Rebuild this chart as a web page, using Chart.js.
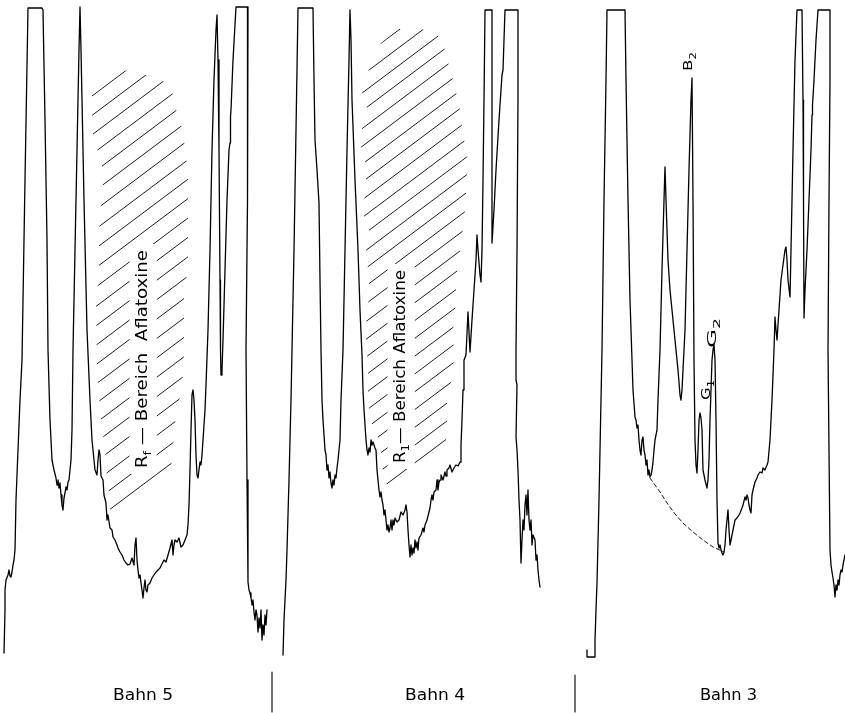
<!DOCTYPE html>
<html>
<head>
<meta charset="utf-8">
<script src="https://cdn.jsdelivr.net/npm/chart.js@4.4.1/dist/chart.umd.min.js"></script>
<style>
body { margin: 0; background: #fff; }
#wrap { width: 845px; height: 713px; }
</style>
</head>
<body>
<div id="wrap"><canvas id="scan"></canvas></div>
<script>
// densitometer traces: [scan position, pen position (0 = top)]
var bahn5 = [[4,653],[5,610],[5,590],[6,580],[8,575],[9,570],[10,576],[11,577],[12,572],[13,565],[14,560],[15,550],[16,500],[18,450],[20,400],[22,360],[25,180],[28,8],[42,8],[43,10],[45,120],[47,240],[48,350],[50,420],[52,460],[54,470],[56,478],[57,485],[58,480],[59,488],[60,483],[61,495],[62,505],[63,510],[64,498],[65,493],[66,487],[67,490],[68,482],[69,480],[70,470],[71,460],[72,430],[73,350],[75,250],[77,150],[79,50],[80,7],[81,50],[84,200],[87,330],[90,400],[92,440],[95,470],[97,475],[98,460],[99,450],[100,455],[101,476],[103,480],[104,495],[106,503],[107,520],[108,515],[110,528],[112,530],[113,537],[115,540],[117,545],[118,548],[120,552],[122,555],[124,560],[126,563],[128,565],[130,564],[132,558],[134,565],[135,545],[136,538],[137,560],[138,570],[139,578],[140,575],[141,583],[142,590],[143,598],[144,588],[145,580],[146,590],[147,592],[148,585],[150,583],[152,578],[154,575],[156,572],[158,570],[160,568],[162,564],[164,560],[166,562],[168,555],[170,548],[172,540],[173,555],[174,545],[175,540],[177,542],[179,538],[181,547],[183,545],[185,540],[187,535],[188,525],[189,505],[190,470],[191,430],[192,395],[193,390],[194,400],[195,420],[196,455],[197,475],[198,478],[199,470],[200,462],[201,465],[202,455],[203,440],[205,410],[206,385],[208,330],[210,250],[212,150],[214,80],[216,30],[217,15],[218,60],[219,150],[220,280],[220.5,350],[221,375],[222,370],[223,340],[225,270],[227,200],[229,150],[230,143],[230.5,117],[231,110],[233,60],[236,7],[248,7],[248,50],[247,200],[246,350],[247,480],[248,582],[249,590],[250,593],[251,598],[252,605],[253,600],[254,612],[255,620],[256,610],[257,615],[258,632],[259,618],[260,628],[261,610],[262,640],[263,625],[264,635],[265,615],[266,625],[267,610]];

var bahn4 = [[283,655],[284,620],[286,580],[287,550],[289,480],[291,400],[292,350],[294,250],[296,130],[298,8],[313,8],[314,80],[315,140],[317,170],[319,203],[320,280],[321,350],[322,400],[323,420],[325,450],[326,455],[327,470],[328,465],[329,478],[330,472],[331,483],[332,488],[333,480],[334,485],[335,475],[336,478],[337,468],[338,460],[340,440],[341,400],[343,350],[345,250],[347,150],[349,60],[350,10],[351,40],[352,100],[355,180],[358,250],[360,310],[362,355],[363,390],[364,410],[365,425],[366,440],[367,450],[368,455],[369,448],[370,452],[371,440],[372,445],[373,442],[375,448],[376,450],[377,470],[378,480],[379,490],[380,497],[381,492],[382,500],[383,505],[384,515],[385,510],[386,520],[387,530],[388,525],[389,532],[390,528],[391,520],[392,530],[393,520],[394,525],[395,518],[397,522],[399,520],[401,512],[403,515],[405,510],[406,505],[407,512],[408,530],[409,545],[410,557],[411,545],[412,555],[413,548],[414,553],[415,540],[416,548],[417,542],[418,550],[419,538],[421,535],[423,528],[424,532],[425,525],[427,520],[429,512],[430,508],[431,500],[432,495],[433,500],[434,492],[436,490],[437,480],[438,490],[439,482],[440,480],[441,475],[443,480],[445,472],[446,476],[447,470],[449,468],[450,465],[452,472],[454,468],[456,465],[458,466],[460,462],[461,445],[462,420],[463,390],[464,360],[466,355],[468,312],[470,352],[472,320],[474,290],[476,260],[477,235],[478,250],[480,275],[481,282],[482,250],[483,180],[484,100],[485,10],[492,10],[492,100],[492,243],[494,210],[496,170],[499,120],[502,75],[503,70],[505,10],[518,10],[518,100],[517,250],[516,350],[516,380],[517,385],[516,437],[517,450],[518,470],[519,500],[520,520],[521,563],[522,540],[523,520],[524,530],[525,505],[526,495],[527,515],[528,490],[529,520],[530,530],[531,520],[532,545],[533,535],[535,540],[536,560],[537,555],[538,570],[539,580],[540,587]];

var bahn3 = [[587,650],[587,657],[595,657],[595,640],[596,610],[597,583],[599,500],[601,400],[602,350],[604,200],[606,80],[607,10],[625,10],[626,80],[628,200],[630,300],[632,360],[633,390],[635,417],[636,420],[637,428],[638,425],[639,440],[640,450],[641,455],[642,440],[643,437],[644,450],[645,455],[646,465],[647,460],[648,475],[649,470],[650,477],[651,475],[652,470],[653,462],[654,450],[655,440],[657,430],[658,400],[660,350],[662,270],[664,200],[665,167],[666,200],[667,230],[668,260],[670,290],[672,310],[675,340],[678,370],[680,395],[681,400],[682,390],[683,370],[685,330],[687,250],[689,170],[691,100],[692,78],[693,200],[694,360],[695,440],[696,465],[697,473],[698,450],[699,420],[700,413],[701,418],[702,430],[703,470],[705,480],[707,488],[708,480],[709,460],[710,420],[711,390],[712,360],[713,350],[714,345],[715,360],[716,420],[717,500],[718,543],[719,548],[720,545],[721,550],[722,553],[723,555],[724,552],[725,545],[726,530],[727,520],[728,510],[729,530],[730,545],[731,540],[732,535],[733,530],[735,520],[737,518],[739,515],[740,513],[742,508],[743,505],[745,497],[746,500],[747,495],[748,498],[749,505],[750,510],[751,513],[752,495],[753,490],[755,482],[757,478],[758,475],[760,472],[762,473],[763,468],[765,470],[767,465],[768,462],[770,440],[771,420],[772,400],[773,375],[774,350],[775,317],[776,330],[777,340],[779,310],[781,280],[783,265],[785,250],[786,247],[787,260],[788,280],[790,297],[791,250],[793,150],[795,60],[797,10],[802,10],[803,100],[803.5,200],[804,318],[805,290],[807,250],[809,200],[811,150],[812,115],[812.5,105],[814,80],[816,40],[818,10],[830,10],[830,80],[829,200],[828,350],[829,450],[830,550],[831,565],[832,572],[833,578],[834,585],[835,597],[836,585],[837,590],[838,580],[839,585],[840,575],[841,570],[842,572],[843,565],[845,555]];

// construction baseline under the aflatoxin peaks of Bahn 3
var bahn3Base = [[650,478],[660,492],[667,503],[675,514],[683,523],[693,532],[703,540],[713,547],[724,552]];

// lane dividers under the traces
var divider1 = [[272,672],[272,712]];
var divider2 = [[575,675],[575,712]];

// outlines of the hatched Rf ranges
var hatch5Outline = [[92,95],[123,70],[143,74],[165,82],[174,96],[177,115],[183,131],[185,150],[188,172],[188,270],[184,290],[184,355],[182,390],[176,412],[173,448],[171,468],[110,510],[109,493],[107,478],[105,448],[101,420],[97,372],[96,300],[99,277],[99,237],[100,212],[103,190],[103,170],[98,152],[93,135],[92,113]];
var hatch4Outline = [[381,43],[398,29],[422,29],[438,36],[445,50],[449,66],[454,83],[461,114],[462,130],[465,144],[467,158],[467,176],[465,211],[463,228],[461,245],[458,263],[456,282],[456,300],[454,318],[453,335],[454,355],[453,375],[447,397],[447,433],[445,449],[389,490],[384,477],[381,460],[381,443],[374,430],[369,415],[369,400],[367,383],[369,365],[366,350],[366,330],[367,312],[369,297],[369,278],[366,250],[369,230],[364,218],[364,203],[366,185],[366,164],[361,150],[362,128],[367,108],[362,93],[369,69]];

var laneLabels = ['Bahn 5', 'Bahn 4', 'Bahn 3'];

var hatchStyle = [
  { outline: hatch5Outline, first: 165, step: 19.4, count: 23 },
  { outline: hatch4Outline, first: 329, step: 17.8, count: 26 }
];

// text placement: baseline x, start y, end y (rotated texts read bottom to top)
var rotatedTexts = [
  { parts: [['R'], ['f', 1], [' \u2014 Bereich  Aflatoxine']], x: 147, y0: 468, y1: 250, size: 16, box: true },
  { parts: [['R'], ['1', 1], ['\u2014 Bereich Aflatoxine']], x: 405, y0: 463, y1: 270, size: 16, box: true },
  { parts: [['B'], ['2', 1]], x: 692, y0: 71, y1: 52, size: 13 },
  { parts: [['G'], ['2', 1]], x: 716, y0: 348, y1: 318, size: 13 },
  { parts: [['G'], ['1', 1]], x: 710, y0: 400, y1: 380, size: 13 }
];
var bottomTexts = [
  { x0: 113, x1: 173 },
  { x0: 405, x1: 465 },
  { x0: 700, x1: 757 }
];

var FONT = '"DejaVu Sans", "Liberation Sans", sans-serif';

function partsWidth(ctx, parts, size) {
  var w = 0;
  parts.forEach(function(p) {
    ctx.font = (p[1] ? size * 0.7 : size) + 'px ' + FONT;
    w += ctx.measureText(p[0]).width;
  });
  return w;
}

function drawParts(ctx, parts, size) {
  var pos = 0;
  ctx.fillStyle = '#000';
  parts.forEach(function(p) {
    ctx.font = (p[1] ? size * 0.7 : size) + 'px ' + FONT;
    ctx.fillText(p[0], pos, p[1] ? size * 0.28 : 0);
    pos += ctx.measureText(p[0]).width;
  });
}

var sheetPlugin = {
  id: 'sheet',
  beforeDatasetsDraw: function(chart) {
    var ctx = chart.ctx;
    var xs = chart.scales.x, ys = chart.scales.y;

    // hatching, clipped to each outline
    hatchStyle.forEach(function(h) {
      var minX = 1e9, maxX = -1e9;
      ctx.save();
      ctx.beginPath();
      h.outline.forEach(function(p, i) {
        var px = xs.getPixelForValue(p[0]), py = ys.getPixelForValue(p[1]);
        if (i == 0) ctx.moveTo(px, py); else ctx.lineTo(px, py);
        minX = Math.min(minX, p[0]); maxX = Math.max(maxX, p[0]);
      });
      ctx.closePath();
      ctx.clip();
      ctx.strokeStyle = '#111';
      ctx.lineWidth = 0.95;
      for (var k = 0; k < h.count; k++) {
        var c = h.first + k * h.step;
        ctx.beginPath();
        ctx.moveTo(xs.getPixelForValue(minX - 5), ys.getPixelForValue(c - 0.75 * (minX - 5)));
        ctx.lineTo(xs.getPixelForValue(maxX + 5), ys.getPixelForValue(c - 0.75 * (maxX + 5)));
        ctx.stroke();
      }
      ctx.restore();
    });

    // rotated lettering
    rotatedTexts.forEach(function(t) {
      var bx = xs.getPixelForValue(t.x);
      var by0 = ys.getPixelForValue(t.y0), by1 = ys.getPixelForValue(t.y1);
      if (t.box) {
        ctx.fillStyle = '#fff';
        ctx.fillRect(bx - t.size * 0.78 - 5, by1 - 6, t.size * 0.78 + t.size * 0.3 + 10, by0 - by1 + 12);
      }
      var w = partsWidth(ctx, t.parts, t.size);
      ctx.save();
      ctx.translate(bx, by0);
      ctx.rotate(-Math.PI / 2);
      ctx.scale((by0 - by1) / w, 1);
      ctx.textBaseline = 'alphabetic';
      ctx.textAlign = 'left';
      drawParts(ctx, t.parts, t.size);
      ctx.restore();
    });

    // lane names
    bottomTexts.forEach(function(b, i) {
      var x0 = xs.getPixelForValue(b.x0), x1 = xs.getPixelForValue(b.x1);
      var w = partsWidth(ctx, [[laneLabels[i]]], 16);
      ctx.save();
      ctx.translate(x0, ys.getPixelForValue(700));
      ctx.scale((x1 - x0) / w, 1);
      ctx.textAlign = 'left';
      ctx.textBaseline = 'alphabetic';
      drawParts(ctx, [[laneLabels[i]]], 16);
      ctx.restore();
    });
  }
};

function traceSet(points, width, dash) {
  return {
    data: points,
    showLine: true,
    borderColor: '#000',
    borderWidth: width,
    borderDash: dash || [],
    borderJoinStyle: 'round',
    borderCapStyle: 'round',
    pointRadius: 0,
    fill: false,
    tension: 0,
    clip: false
  };
}

new Chart(document.getElementById('scan'), {
  type: 'scatter',
  data: {
    datasets: [
      traceSet(bahn5, 1.3),
      traceSet(bahn4, 1.3),
      traceSet(bahn3, 1.3),
      traceSet(bahn3Base, 0.9, [4, 3]),
      traceSet(divider1, 1.1),
      traceSet(divider2, 1.1)
    ]
  },
  options: {
    responsive: true,
    maintainAspectRatio: false,
    animation: false,
    layout: { padding: 0 },
    plugins: { legend: { display: false }, tooltip: { enabled: false } },
    scales: {
      x: { type: 'linear', min: 0, max: 845, display: false },
      y: { type: 'linear', min: 0, max: 713, reverse: true, display: false }
    }
  },
  plugins: [sheetPlugin]
});
</script>
</body>
</html>
